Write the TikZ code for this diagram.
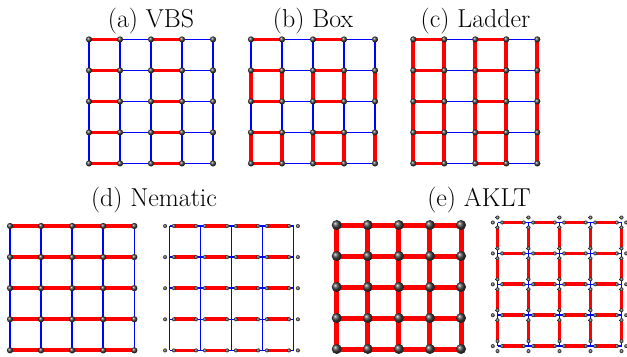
\documentclass[tikz,border=0pt]{standalone}
\usetikzlibrary{backgrounds}
\begin{document}
\begin{tikzpicture}[x=1bp,y=-1bp,
  site/.style={circle,inner sep=0pt,minimum size=6.2bp,ball color=black!75},
  bigsite/.style={circle,inner sep=0pt,minimum size=10bp,ball color=black!75},
  smallsite/.style={circle,inner sep=0pt,minimum size=4bp,ball color=black!75},
  rb/.style={draw=red,line width=3.8bp},
  bb/.style={draw=blue,line width=1.6bp},
  rbig/.style={draw=red,line width=5bp},
  lab/.style={anchor=base,font=\fontsize{26}{30}\selectfont,inner sep=0pt}]
\useasboundingbox (0,0) rectangle (627,356);
% labels
\node[lab] (la) at (151,27) {(a) VBS};
\node[lab] (lb) at (313,27) {(b) Box};
\node[lab] (lc) at (475.5,27) {(c) Ladder};
\node[lab] (ld) at (154,206) {(d) Nematic};
\node[lab] (le) at (479,206) {(e) AKLT};
% ---------- (a) VBS
\foreach \i in {0,...,4}{\foreach \j in {0,...,4}{
  \node[site] (a-\i-\j) at ({89+31*\i},{39.4+31*\j}) {};}}
\begin{scope}[on background layer]
\foreach \j in {0,...,4}{\foreach \i in {0,...,3}{
  \pgfmathtruncatemacro\k{\i+1}
  \ifodd\i \draw[bb] (a-\i-\j.center)--(a-\k-\j.center);
  \else \draw[rb] (a-\i-\j.center)--(a-\k-\j.center); \fi
  \draw[bb] (a-\j-\i.center)--(a-\j-\k.center);}}
\end{scope}
% ---------- (b) Box
\foreach \i in {0,...,4}{\foreach \j in {0,...,4}{
  \node[site] (b-\i-\j) at ({251+31*\i},{39.4+31*\j}) {};}}
\begin{scope}[on background layer]
\foreach \j in {0,...,4}{\foreach \i in {0,...,3}{
  \pgfmathtruncatemacro\k{\i+1}
  \ifodd\i \draw[bb] (b-\i-\j.center)--(b-\k-\j.center);
  \else \draw[rb] (b-\i-\j.center)--(b-\k-\j.center); \fi
  \ifodd\i \draw[rb] (b-\j-\i.center)--(b-\j-\k.center);
  \else \draw[bb] (b-\j-\i.center)--(b-\j-\k.center); \fi}}
\end{scope}
% ---------- (c) Ladder
\foreach \i in {0,...,4}{\foreach \j in {0,...,4}{
  \node[site] (c-\i-\j) at ({413.3+31*\i},{39.4+31*\j}) {};}}
\begin{scope}[on background layer]
\foreach \j in {0,...,4}{\foreach \i in {0,...,3}{
  \pgfmathtruncatemacro\k{\i+1}
  \ifodd\i \draw[bb] (c-\i-\j.center)--(c-\k-\j.center);
  \else \draw[rb] (c-\i-\j.center)--(c-\k-\j.center); \fi
  \draw[rb] (c-\j-\i.center)--(c-\j-\k.center);}}
\end{scope}
% ---------- (d) Nematic, left
\foreach \i in {0,...,4}{\foreach \j in {0,...,4}{
  \node[site] (d-\i-\j) at ({10+31.08*\i},{226+31.08*\j}) {};}}
\begin{scope}[on background layer]
\foreach \j in {0,...,4}{\foreach \i in {0,...,3}{
  \pgfmathtruncatemacro\k{\i+1}
  \draw[rb] (d-\i-\j.center)--(d-\k-\j.center);
  \draw[bb] (d-\j-\i.center)--(d-\j-\k.center);}}
\end{scope}
% ---------- (d) Nematic, right
\foreach \i in {0,...,4}{\foreach \j in {0,...,4}{
  \coordinate (n-\i-\j) at ({169.5+31*\i},{226+31.1*\j});
  \node[smallsite] (nl-\i-\j) at ({169.5+31*\i-4.4},{226+31.1*\j}) {};
  \node[smallsite] (nr-\i-\j) at ({169.5+31*\i+4.4},{226+31.1*\j}) {};}}
\begin{scope}[on background layer]
\foreach \i in {0,...,4}{\draw[bb] (n-\i-0)--(n-\i-4);}
\foreach \j in {0,...,4}{\foreach \i in {0,...,3}{
  \pgfmathtruncatemacro\k{\i+1}
  \draw[rb] (nr-\i-\j.center)--(nl-\k-\j.center);
  \draw[bb] (n-\i-\j)--(nr-\i-\j.center);
  \draw[bb] (nl-\k-\j.center)--(n-\k-\j);}}
\end{scope}
% ---------- (e) AKLT, left
\foreach \i in {0,...,4}{\foreach \j in {0,...,4}{
  \node[bigsite] (e-\i-\j) at ({336.7+31.08*\i},{225+31*\j}) {};}}
\begin{scope}[on background layer]
\foreach \j in {0,...,4}{\foreach \i in {0,...,3}{
  \pgfmathtruncatemacro\k{\i+1}
  \draw[rbig] (e-\i-\j.center)--(e-\k-\j.center);
  \draw[rbig] (e-\j-\i.center)--(e-\j-\k.center);}}
\end{scope}
% ---------- (e) AKLT, right
\foreach \i in {0,...,4}{\foreach \j in {0,...,4}{
  \coordinate (k-\i-\j) at ({497.5+31*\i},{222.5+30.9*\j});
  \node[smallsite] (kl-\i-\j) at ({497.5+31*\i-4.7},{222.5+30.9*\j}) {};
  \node[smallsite] (kr-\i-\j) at ({497.5+31*\i+4.7},{222.5+30.9*\j}) {};
  \node[smallsite] (ku-\i-\j) at ({497.5+31*\i},{222.5+30.9*\j-5}) {};
  \node[smallsite] (kd-\i-\j) at ({497.5+31*\i},{222.5+30.9*\j+5}) {};}}
\begin{scope}[on background layer]
\foreach \j in {0,...,4}{\foreach \i in {0,...,3}{
  \pgfmathtruncatemacro\k{\i+1}
  \draw[rb] (kr-\i-\j.center)--(kl-\k-\j.center);
  \draw[rb] (kd-\j-\i.center)--(ku-\j-\k.center);
  \draw[bb] (k-\i-\j)--(kr-\i-\j.center);
  \draw[bb] (kl-\k-\j.center)--(k-\k-\j);
  \draw[bb] (k-\j-\i)--(kd-\j-\i.center);
  \draw[bb] (ku-\j-\k.center)--(k-\j-\k);}}
\end{scope}
\end{tikzpicture}
\end{document}
